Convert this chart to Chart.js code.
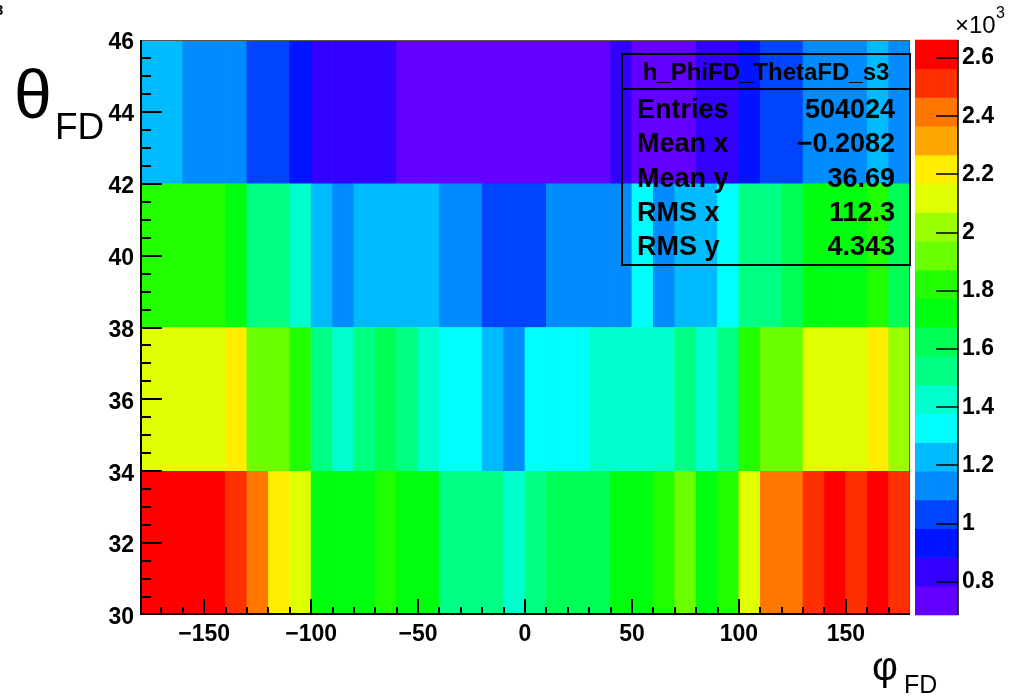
<!DOCTYPE html>
<html>
<head>
<meta charset="utf-8">
<script src="https://cdn.jsdelivr.net/npm/chart.js@4/dist/chart.umd.min.js"></script>
<style>
  html, body { margin: 0; padding: 0; background: #fff; }
  #wrap { width: 1026px; height: 698px; position: relative; }
</style>
</head>
<body>
<div id="wrap"><canvas id="myChart" width="1026" height="698"></canvas></div>
<script>
// phi bins (10 deg wide), centers
const phiCenters = [-175,-165,-155,-145,-135,-125,-115,-105,-95,-85,-75,-65,-55,-45,-35,-25,-15,-5,
                    5,15,25,35,45,55,65,75,85,95,105,115,125,135,145,155,165,175];
const phiTicks = [-150,-100,-50,0,50,100,150];
const thetaTicks = [30,32,34,36,38,40,42,44,46];
const zTicks = [800,1000,1200,1400,1600,1800,2000,2200,2400,2600];

// theta bins (4 deg wide)
const thetaBins = [[30,34],[34,38],[38,42],[42,46]];

// bin contents, one array per theta bin
const theta30_34 = [2631,2598,2605,2622,2507,2402,2215,2108,1712,1735,1728,1806,1744,1719,1531,1518,1540,1421,
                    1509,1622,1640,1611,1702,1731,1830,1915,1726,1812,2131,2428,2410,2530,2640,2498,2652,2519];
const theta34_38 = [2112,2135,2098,2126,2204,1931,1908,1817,1512,1436,1540,1611,1529,1420,1332,1318,1226,1140,
                    1345,1327,1339,1408,1433,1415,1442,1520,1426,1536,1809,1917,1938,2105,2121,2140,2230,2012];
const theta38_42 = [1818,1834,1802,1826,1731,1520,1538,1419,1222,1128,1236,1241,1219,1230,1122,1136,1041,1025,
                    1018,1113,1139,1124,1130,1325,1121,1227,1238,1318,1516,1535,1629,1709,1741,1722,1812,1617];
const theta42_46 = [1231,1219,1127,1142,1118,1036,1022,921,838,826,841,829,741,728,736,712,723,730,
                    744,719,726,735,832,739,727,722,840,825,935,1028,1040,1125,1136,1119,1234,1132];
const rows = [theta30_34, theta34_38, theta38_42, theta42_46];

// colour scale range and number of contours
const zMin = 686, zMax = 2662, nLevels = 20;

// stats box
const statsTitle = "h_PhiFD_ThetaFD_s3";
const statsNames = ["Entries","Mean x","Mean y","RMS x","RMS y"];
const statsValues = ["504024","\u22120.2082","36.69","112.3","4.343"];

// ROOT "pretty palette" violet->red, 50 colours, picked for 20 contours
function levelColor(k) {
    const j = Math.floor((k + 0.99) * 50 / nLevels);
    const hue = Math.max(0, 280 - (j + 1) * 5.6);
    return `hsl(${hue},100%,50%)`;
}
function valueColor(v) {
    let k = Math.floor((v - zMin) / (zMax - zMin) * nLevels);
    k = Math.min(nLevels - 1, Math.max(0, k));
    return levelColor(k);
}

const boldFont = "'Liberation Sans', Arial, sans-serif";

const datasets = rows.map((vals, r) => ({
    label: `theta ${thetaBins[r][0]}-${thetaBins[r][1]}`,
    data: phiCenters.map(x => ({ x: x, y: thetaBins[r] })),
    backgroundColor: vals.map(valueColor),
    borderWidth: 0,
    grouped: false,
    barPercentage: 1,
    categoryPercentage: 1
}));

// no extra room for half labels at the ends of the vertical axes
function noEndPadding(s) {
    s.paddingTop = 0;
    s.paddingBottom = 0;
}

// frame, inner ticks, colour bar, titles and stats box
const decorations = {
    id: 'decorations',
    afterDatasetsDraw(chart) {
        const ctx = chart.ctx;
        const a = chart.chartArea;
        const xs = chart.scales.x, ys = chart.scales.y, zs = chart.scales.z;
        ctx.save();
        // frame
        ctx.strokeStyle = '#555';
        ctx.lineWidth = 1;
        ctx.beginPath();
        ctx.moveTo(a.left, a.top + 0.5); ctx.lineTo(a.right, a.top + 0.5);
        ctx.moveTo(a.right - 0.5, a.top); ctx.lineTo(a.right - 0.5, a.bottom);
        ctx.stroke();
        ctx.strokeStyle = '#000';
        ctx.lineWidth = 2;
        ctx.beginPath();
        ctx.moveTo(a.left + 1, a.top); ctx.lineTo(a.left + 1, a.bottom);
        ctx.moveTo(a.left, a.bottom - 1); ctx.lineTo(a.right, a.bottom - 1);
        ctx.stroke();

        // x ticks: minor every 10, major every 50
        ctx.lineWidth = 2;
        ctx.beginPath();
        for (let v = -170; v < 180; v += 10) {
            const px = Math.round(xs.getPixelForValue(v));
            const len = (v % 50 === 0) ? 16 : 8;
            ctx.moveTo(px, a.bottom); ctx.lineTo(px, a.bottom - len);
        }
        // y ticks: minor every 0.5, major every 2
        for (let v = 30.5; v < 46; v += 0.5) {
            const py = Math.round(ys.getPixelForValue(v));
            const len = (v % 2 === 0) ? 22 : 11;
            ctx.moveTo(a.left, py); ctx.lineTo(a.left + len, py);
        }
        ctx.stroke();

        // colour bar
        const bx0 = 915, bx1 = 958;
        const dz = (zMax - zMin) / nLevels;
        for (let k = 0; k < nLevels; k++) {
            const y0 = zs.getPixelForValue(zMin + k * dz);
            const y1 = zs.getPixelForValue(zMin + (k + 1) * dz);
            ctx.fillStyle = levelColor(k);
            ctx.fillRect(bx0, y1 - 0.3, bx1 - bx0, y0 - y1 + 0.6);
        }
        ctx.strokeStyle = '#000';
        ctx.lineWidth = 1.5;
        ctx.beginPath();
        ctx.moveTo(bx1, zs.top); ctx.lineTo(bx1, zs.bottom);
        zTicks.forEach(v => {
            const py = Math.round(zs.getPixelForValue(v));
            ctx.moveTo(bx1, py); ctx.lineTo(bx1 - 22, py);
        });
        ctx.stroke();

        // x10^3
        ctx.fillStyle = '#000';
        ctx.textBaseline = 'alphabetic';
        ctx.textAlign = 'left';
        ctx.font = "24px " + boldFont;
        ctx.fillText("\u00d710", 955, 33);
        ctx.font = "16px " + boldFont;
        ctx.fillText("3", 996, 18);

        // axis titles
        ctx.font = "68px " + boldFont;
        ctx.fillText("\u03b8", 14, 118);
        ctx.font = "37px " + boldFont;
        ctx.fillText("FD", 55, 139);
        ctx.font = "40px " + boldFont;
        ctx.fillText("\u03c6", 872, 680);
        ctx.font = "25px " + boldFont;
        ctx.fillText("FD", 904, 693);

        // cut-off text at top left corner
        ctx.font = "bold 15px " + boldFont;
        ctx.fillText("3", -5, 15);

        // stats box
        const sx0 = 622, sx1 = a.right, sy0 = 54, sy1 = 265, sep = 89;
        ctx.lineWidth = 2;
        ctx.strokeRect(sx0, sy0, sx1 - sx0, sy1 - sy0);
        ctx.beginPath();
        ctx.moveTo(sx0, sep); ctx.lineTo(sx1, sep);
        ctx.stroke();
        ctx.font = "bold 24px " + boldFont;
        ctx.textAlign = 'center';
        ctx.fillText(statsTitle, (sx0 + sx1) / 2, 80);
        ctx.font = "bold 27px " + boldFont;
        statsNames.forEach((name, i) => {
            const by = 118 + i * 34.3;
            ctx.textAlign = 'left';
            ctx.fillText(name, 637, by);
            ctx.textAlign = 'right';
            ctx.fillText(statsValues[i], 895, by);
        });
        ctx.restore();
    }
};

new Chart(document.getElementById('myChart'), {
    type: 'bar',
    data: { datasets: datasets },
    options: {
        responsive: false,
        animation: false,
        devicePixelRatio: 1,
        layout: { padding: { top: 40, right: 0, left: 0, bottom: 0 } },
        plugins: { legend: { display: false }, tooltip: { enabled: false } },
        scales: {
            x: {
                type: 'linear', min: -180, max: 180, offset: false,
                grid: { display: false, drawTicks: false, offset: false },
                border: { display: false },
                afterBuildTicks: s => { s.ticks = phiTicks.map(v => ({ value: v })); },
                afterFit: s => { s.height = 83; s.paddingLeft = 0; s.paddingRight = 0; },
                ticks: {
                    padding: 6, color: '#000', maxRotation: 0, autoSkip: false,
                    font: { family: boldFont, size: 23, weight: 'bold' },
                    callback: v => (v < 0 ? '\u2212' + Math.abs(v) : '' + v)
                }
            },
            y: {
                type: 'linear', min: 30, max: 46, stacked: false,
                grid: { display: false, drawTicks: false },
                border: { display: false },
                afterBuildTicks: s => { s.ticks = thetaTicks.map(v => ({ value: v })); },
                afterFit: s => { s.width = 140; noEndPadding(s); },
                ticks: {
                    padding: 6, color: '#000', labelOffset: 3, autoSkip: false,
                    font: { family: boldFont, size: 23, weight: 'bold' }
                }
            },
            z: {
                type: 'linear', position: 'right', min: zMin, max: zMax,
                grid: { display: false, drawTicks: false },
                border: { display: false },
                afterBuildTicks: s => { s.ticks = zTicks.map(v => ({ value: v })); },
                afterFit: s => { s.width = 116; noEndPadding(s); },
                ticks: {
                    padding: 52, color: '#000', autoSkip: false,
                    font: { family: boldFont, size: 23, weight: 'bold' },
                    callback: v => '' + (v / 1000)
                }
            }
        }
    },
    plugins: [decorations]
});
</script>
</body>
</html>
